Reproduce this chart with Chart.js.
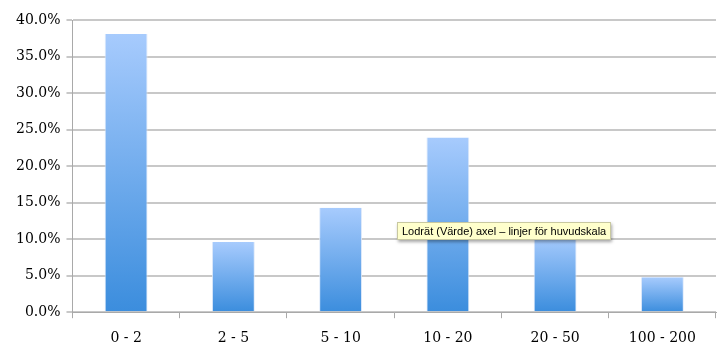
<!DOCTYPE html>
<html>
<head>
<meta charset="utf-8">
<script src="https://cdn.jsdelivr.net/npm/chart.js@4"></script>
<style>
  body { margin: 0; background: #fff; }
  #wrap { position: relative; width: 726px; height: 360px; }
  #tip {
    position: absolute; left: 397px; top: 222px;
    padding: 2px 4px; background: #ffffcc; border: 1px solid #c8c8a0;
    font: 11px "Liberation Sans", sans-serif; color: #000; white-space: nowrap;
    box-shadow: 1px 2px 3px rgba(0,0,0,0.35);
  }
</style>
</head>
<body>
<div id="wrap">
  <canvas id="myChart" width="726" height="360"></canvas>
  <div id="tip">Lodrät (Värde) axel – linjer för huvudskala</div>
</div>
<script>
var categories = ['0 - 2', '2 - 5', '5 - 10', '10 - 20', '20 - 50', '100 - 200'];
var shares = [38.1, 9.6, 14.3, 23.9, 10.4, 4.8];
var yTicks = [0, 5, 10, 15, 20, 25, 30, 35, 40];

// vertical gradient per bar, light at top, darker at base
function barFill(context) {
    var chart = context.chart;
    var y = chart.scales.y;
    if (!y || !chart.chartArea || context.parsed === undefined) return '#7fb0f0';
    var top = y.getPixelForValue(context.parsed.y);
    var base = y.getPixelForValue(0);
    if (!isFinite(top) || !isFinite(base)) return '#7fb0f0';
    var g = chart.ctx.createLinearGradient(0, top, 0, base);
    g.addColorStop(0, '#a7cbfd');
    g.addColorStop(1, '#3b8ddd');
    return g;
}

var ctx = document.getElementById('myChart');
var myChart = new Chart(ctx, {
    type: 'bar',
    data: {
        labels: categories,
        datasets: [{
            data: shares,
            backgroundColor: barFill,
            borderColor: 'rgba(220,232,250,0.9)',
            borderWidth: {left: 1, right: 1, top: 0, bottom: 0},
            barPercentage: 0.4,
            categoryPercentage: 1
        }]
    },
    options: {
        responsive: false,
        animation: false,
        layout: {padding: {top: 20, right: 10, left: 10, bottom: 1}},
        plugins: {legend: {display: false}, tooltip: {enabled: false}},
        scales: {
            x: {
                grid: {drawOnChartArea: false, color: '#a9a9a9', tickLength: 6},
                border: {color: '#a9a9a9'},
                ticks: {color: '#000', padding: 12, font: {family: 'DejaVu Serif', size: 14}}
            },
            y: {
                min: 0, max: 40,
                afterBuildTicks: function(axis) {
                    axis.ticks = yTicks.map(function(v) { return {value: v}; });
                },
                grid: {color: '#c8c8c8', lineWidth: 2, tickLength: 6},
                border: {color: '#a9a9a9', width: 1},
                ticks: {
                    color: '#000', padding: 6,
                    font: {family: 'DejaVu Serif', size: 14},
                    callback: function(v) { return v.toFixed(1) + '%'; }
                }
            }
        }
    }
});
// redraw once scales exist so every bar gets its gradient
myChart.update();
</script>
</body>
</html>
